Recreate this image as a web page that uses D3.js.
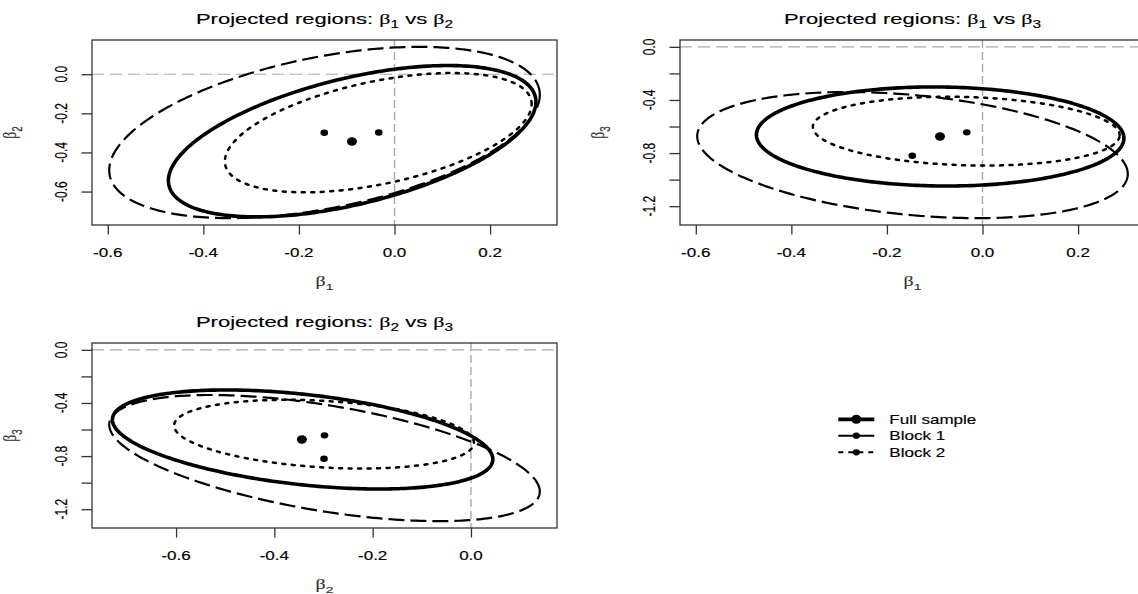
<!DOCTYPE html>
<html><head><meta charset="utf-8">
<script src="https://cdn.jsdelivr.net/npm/d3@7"></script>
<style>body{margin:0;background:#fff} svg{display:block}</style>
</head><body><svg id="c" width="1138" height="594"></svg>
<script>
// ---------------- data ----------------
const regionNames = ["Full sample", "Block 1", "Block 2"];
// point estimates (dots)
const estBeta1 = [-0.089, -0.147, -0.033];
const estBeta2 = [-0.344, -0.299, -0.298];
const estBeta3 = [-0.675, -0.820, -0.644];
// confidence ellipse centres
const ctrBeta1 = [-0.0886, -0.1465, -0.034];
const ctrBeta2 = [-0.3425, -0.298, -0.299];
const ctrBeta3 = [-0.675, -0.815, -0.635];
// half extents of each region along each coefficient
const halfBeta1 = [0.3845, 0.4505, 0.321];
const halfBeta2 = [0.387, 0.438, 0.305];
const halfBeta3 = [0.373, 0.475, 0.259];
// pairwise correlations of the regions
const rho12 = [0.52, 0.44, 0.48];
const rho13 = [-0.035, -0.30, -0.12];
const rho23 = [-0.40, -0.53, -0.25];
const paramSubs = ["1", "2", "3"];
// panels: pairs of coefficients
const panelPairs = [[0, 1], [0, 2], [1, 2]];
const xTickVals = [[-0.6, -0.4, -0.2, 0.0, 0.2], [-0.6, -0.4, -0.2, 0.0, 0.2], [-0.6, -0.4, -0.2, 0.0]];
const yTickVals = [[0.0, -0.2, -0.4, -0.6], [0.0, -0.2, -0.4, -0.6, -0.8, -1.0, -1.2], [0.0, -0.2, -0.4, -0.6, -0.8, -1.0, -1.2]];
const yTickLabelVals = [[0.0, -0.2, -0.4, -0.6], [0.0, -0.4, -0.8, -1.2], [0.0, -0.4, -0.8, -1.2]];

// ---------------- layout/style ----------------
const boxes = [
  {x0: 92, x1: 557, y0: 40, y1: 225},
  {x0: 680, x1: 1145, y0: 40, y1: 225},
  {x0: 92, x1: 557, y0: 343, y1: 528}
];
const SX = 1.42;
const SANS = "'Liberation Sans', Arial, Helvetica, sans-serif";
const SERIF = "'Liberation Serif', 'DejaVu Serif', serif";
const lineStyles = [
  {w: 3.6, dash: null, cap: "round"},
  {w: 2.2, dash: "16 6", cap: "butt"},
  {w: 2.5, dash: "3 6.5", cap: "round"}
];
const dotR = [[5, 4.2], [3.8, 3.2], [3.8, 3.2]];

const est = [estBeta1, estBeta2, estBeta3];
const ctr = [ctrBeta1, ctrBeta2, ctrBeta3];
const half = [halfBeta1, halfBeta2, halfBeta3];
function rho(i, j, r) {
  const k = [i, j].sort().join("");
  return k === "01" ? rho12[r] : k === "02" ? rho13[r] : rho23[r];
}
const fmt = v => (Math.abs(v) < 1e-9 ? "0.0" : v.toFixed(1));

const svg = d3.select("#c");

function stext(g, x, y, parts, o) {
  const fs = o.fs;
  const t = g.append("text")
    .attr("transform", `translate(${x},${y}) scale(${SX},1)` + (o.rot ? " rotate(-90)" : ""))
    .attr("text-anchor", o.anchor || "middle")
    .attr("font-family", SANS)
    .attr("font-size", fs)
    .attr("fill", o.fill || "#000")
    .attr("stroke", o.fill || "#000").attr("stroke-width", 0.15);
  let shifted = 0;
  parts.forEach(p => {
    const ts = t.append("tspan").text(p.t);
    if (p.greek) ts.attr("font-family", SERIF);
    if (p.sub) {
      ts.attr("font-size", fs * 0.7).attr("dy", fs * 0.28);
      shifted = fs * 0.28;
    } else if (shifted) {
      ts.attr("dy", -shifted); shifted = 0;
    }
  });
  return t;
}

panelPairs.forEach(([i, j], pi) => {
  const b = boxes[pi];
  const g = svg.append("g");
  // axis limits from data (+0 reference), R-style 4% extension
  const ext = k => {
    const lo = Math.min(0, d3.min(ctr[k].map((c, r) => c - half[k][r])));
    const hi = Math.max(0, d3.max(ctr[k].map((c, r) => c + half[k][r])));
    const d = (hi - lo) * 0.04;
    return [lo - d, hi + d];
  };
  const x = d3.scaleLinear().domain(ext(i)).range([b.x0, b.x1]);
  const y = d3.scaleLinear().domain(ext(j)).range([b.y1, b.y0]);

  const clipId = "clip" + pi;
  g.append("clipPath").attr("id", clipId).append("rect")
    .attr("x", b.x0).attr("y", b.y0).attr("width", b.x1 - b.x0).attr("height", b.y1 - b.y0);
  const pg = g.append("g").attr("clip-path", `url(#${clipId})`);

  // reference lines at zero
  pg.append("line").attr("x1", b.x0).attr("x2", b.x1).attr("y1", y(0)).attr("y2", y(0))
    .attr("stroke", "#a8a8a8").attr("stroke-width", 1.2).attr("stroke-dasharray", "12 6");
  pg.append("line").attr("x1", x(0)).attr("x2", x(0)).attr("y1", b.y0).attr("y2", b.y1)
    .attr("stroke", "#a8a8a8").attr("stroke-width", 1.4).attr("stroke-dasharray", "8 4");

  // ellipses
  const ts = d3.range(0, 2 * Math.PI, Math.PI / 150);
  const line = d3.line().x(d => x(d[0])).y(d => y(d[1])).curve(d3.curveLinearClosed);
  [1, 2, 0].forEach(r => {
    const dd = Math.acos(rho(i, j, r));
    const pts = ts.map(t => [ctr[i][r] + half[i][r] * Math.cos(t), ctr[j][r] + half[j][r] * Math.cos(t - dd)]);
    const st = lineStyles[r];
    pg.append("path").attr("d", line(pts)).attr("fill", "none").attr("stroke", "#000")
      .attr("stroke-width", st.w).attr("stroke-linecap", st.cap).attr("stroke-linejoin", "round")
      .attr("stroke-dasharray", st.dash);
  });
  // point estimates
  regionNames.forEach((n, r) => {
    pg.append("ellipse").attr("cx", x(est[i][r])).attr("cy", y(est[j][r]))
      .attr("rx", dotR[r][0]).attr("ry", dotR[r][1]).attr("fill", "#000");
  });

  // box
  g.append("rect").attr("x", b.x0).attr("y", b.y0).attr("width", b.x1 - b.x0).attr("height", b.y1 - b.y0)
    .attr("fill", "none").attr("stroke", "#333").attr("stroke-width", 1.3);

  // x axis
  const xa = g.append("g").attr("transform", `translate(0,${b.y1})`)
    .call(d3.axisBottom(x).tickValues(xTickVals[pi]).tickSize(9.5).tickFormat(() => ""));
  xa.select(".domain").remove();
  xa.selectAll(".tick line").attr("stroke", "#333").attr("stroke-width", 1.3);
  xTickVals[pi].forEach(v => stext(g, x(v), b.y1 + 31.5, [{t: fmt(v)}], {fs: 12}));
  // y axis
  const ya = g.append("g").attr("transform", `translate(${b.x0},0)`)
    .call(d3.axisLeft(y).tickValues(yTickVals[pi]).tickSize(10.5).tickFormat(() => ""));
  ya.select(".domain").remove();
  ya.selectAll(".tick line").attr("stroke", "#333").attr("stroke-width", 1.3);
  yTickLabelVals[pi].forEach(v => stext(g, b.x0 - 25.5, y(v), [{t: fmt(v)}], {fs: 12, rot: true}));

  // axis titles
  const cx = (b.x0 + b.x1) / 2, cy = (b.y0 + b.y1) / 2;
  stext(g, cx, b.y1 + 61, [{t: "β", greek: true}, {t: paramSubs[i], sub: true}], {fs: 14, fill: "#333"});
  stext(g, b.x0 - 76, cy, [{t: "β", greek: true}, {t: paramSubs[j], sub: true}], {fs: 14, rot: true, fill: "#333"});
  // main title
  stext(g, cx, b.y0 - 16, [
    {t: "Projected regions: "}, {t: "β", greek: true}, {t: paramSubs[i], sub: true},
    {t: " vs "}, {t: "β", greek: true}, {t: paramSubs[j], sub: true}
  ], {fs: 15.5});
});

// ---------------- legend ----------------
const legY = [419.3, 435.7, 452.3];
const legLine = [
  {w: 3.8, dash: null},
  {w: 2.0, dash: null},
  {w: 2.0, dash: "5 5"}
];
const legDot = [[5, 4.5], [3.6, 3.1], [3.6, 3.1]];
const lg = svg.append("g");
regionNames.forEach((n, r) => {
  lg.append("line").attr("x1", 838.3).attr("x2", 874.3).attr("y1", legY[r]).attr("y2", legY[r])
    .attr("stroke", "#000").attr("stroke-width", legLine[r].w).attr("stroke-dasharray", legLine[r].dash);
  lg.append("ellipse").attr("cx", 856.3).attr("cy", legY[r]).attr("rx", legDot[r][0]).attr("ry", legDot[r][1]).attr("fill", "#000");
  stext(lg, 889.3, legY[r] + 4.3, [{t: n}], {fs: 12, anchor: "start"});
});
</script></body></html>
